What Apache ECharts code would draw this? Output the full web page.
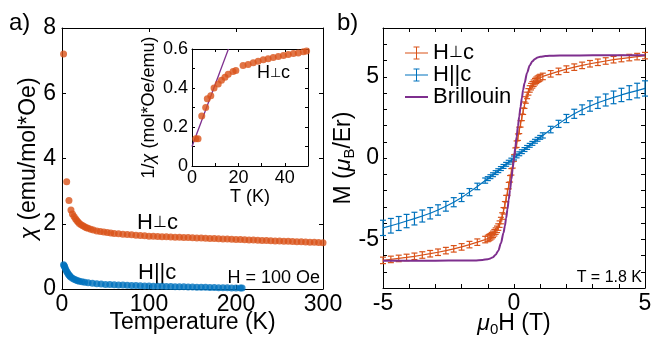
<!DOCTYPE html>
<html><head><meta charset="utf-8">
<script src="https://cdn.jsdelivr.net/npm/echarts@6/dist/echarts.min.js"></script>
<style>html,body{margin:0;padding:0;background:#fff;overflow:hidden}#c{width:651px;height:341px}</style>
</head><body><div id="c"></div>
<script>
const chiPerpT = [1.8, 5.4, 8, 10.3, 12, 13.8, 15.5, 17, 18.5, 20, 22, 24, 26, 28, 30, 33, 36, 40, 44, 48, 52, 56, 60, 65, 70, 75, 80, 85, 90, 95, 100,
  105, 110, 115, 120, 125, 130, 135, 140, 145, 150, 155, 160, 165, 170, 175, 180, 185, 190, 195, 200,
  205, 210, 215, 220, 225, 230, 235, 240, 245, 250, 255, 260, 265, 270, 275, 280, 285, 290, 295, 300];
const chiPerp = [7.2, 3.29, 2.71, 2.42, 2.30, 2.22, 2.15, 2.10, 2.05, 2.01, 1.97, 1.94, 1.91, 1.88, 1.86, 1.83, 1.81, 1.78, 1.76, 1.745, 1.73, 1.715, 1.70, 1.69, 1.68, 1.67, 1.66, 1.65, 1.64, 1.63, 1.62,
  1.615, 1.61, 1.605, 1.60, 1.595, 1.59, 1.585, 1.58, 1.575, 1.57, 1.565, 1.56, 1.555, 1.55, 1.545, 1.54, 1.535, 1.53, 1.525, 1.52,
  1.515, 1.51, 1.505, 1.50, 1.495, 1.49, 1.485, 1.48, 1.475, 1.47, 1.465, 1.46, 1.455, 1.45, 1.445, 1.44, 1.435, 1.43, 1.425, 1.42];
const chiParT = [1.8, 2.5, 3, 4, 5, 6, 7, 8, 9, 10, 12, 14, 16, 18, 20, 23, 26, 30, 35, 40, 45, 50, 55, 60, 65, 70, 75, 80, 85, 90, 95, 100,
  105, 110, 115, 120, 125, 130, 135, 140, 145, 150, 155, 160, 165, 170, 175, 180, 185, 190, 195, 200, 205, 207];
const chiPar = [0.74, 0.71, 0.68, 0.62, 0.56, 0.51, 0.47, 0.43, 0.40, 0.37, 0.33, 0.30, 0.275, 0.255, 0.24, 0.22, 0.205, 0.19, 0.175, 0.16, 0.15, 0.14, 0.135, 0.13, 0.125, 0.12, 0.115, 0.11, 0.105, 0.10, 0.095, 0.09,
  0.087, 0.084, 0.081, 0.078, 0.075, 0.072, 0.069, 0.066, 0.063, 0.06, 0.057, 0.054, 0.051, 0.048, 0.045, 0.042, 0.039, 0.036, 0.033, 0.03, 0.028, 0.027];
const invT = [1.6, 2.6, 4.2, 5.9, 6.6, 8.1, 9.5, 11.3, 12.7, 14.2, 15.6, 17.7, 18.9, 22, 24.2, 26.4, 28.5, 30.7, 32.8, 35, 37.2, 39.4, 41.5, 43.7, 45.8, 48, 49.4];
const invChi = [0.14, 0.14, 0.257, 0.30, 0.345, 0.36, 0.40, 0.42, 0.44, 0.455, 0.47, 0.484, 0.49, 0.515, 0.52, 0.53, 0.537, 0.545, 0.55, 0.557, 0.562, 0.567, 0.572, 0.577, 0.58, 0.586, 0.59];
const fitT = [0, 15.7];
const fitInv = [0.10, 0.60];

const hPerp = [-5.0, -4.7, -4.4, -4.1, -3.8, -3.5, -3.2, -2.9, -2.6, -2.3, -2.0, -1.7, -1.4, -1.1,
  -1.0, -0.95, -0.9, -0.85, -0.8, -0.75, -0.7, -0.65, -0.6, -0.55, -0.5, -0.45, -0.4, -0.35, -0.3, -0.25, -0.2, -0.15, -0.1, -0.05,
  0, 0.05, 0.1, 0.15, 0.2, 0.25, 0.3, 0.35, 0.4, 0.45, 0.5, 0.55, 0.6, 0.65, 0.7, 0.75, 0.8, 0.85, 0.9, 0.95, 1.0,
  1.1, 1.4, 1.7, 2.0, 2.3, 2.6, 2.9, 3.2, 3.5, 3.8, 4.1, 4.4, 4.7, 5.0];
const mPerp = [-6.3, -6.24, -6.18, -6.12, -6.05, -5.97, -5.89, -5.8, -5.7, -5.59, -5.47, -5.33, -5.18, -5.02,
  -4.95, -4.9, -4.85, -4.78, -4.7, -4.6, -4.5, -4.39, -4.25, -4.07, -3.85, -3.57, -3.25, -2.88, -2.5, -2.1, -1.7, -1.28, -0.85, -0.42,
  0, 0.42, 0.85, 1.28, 1.7, 2.1, 2.5, 2.88, 3.25, 3.57, 3.85, 4.07, 4.25, 4.39, 4.5, 4.6, 4.7, 4.78, 4.85, 4.9, 4.95,
  5.02, 5.18, 5.33, 5.47, 5.59, 5.7, 5.8, 5.89, 5.97, 6.05, 6.12, 6.18, 6.24, 6.3];
const errPerp = 0.2;
const hPar = [-5.0, -4.7, -4.4, -4.1, -3.8, -3.5, -3.2, -2.9, -2.6, -2.3, -2.0, -1.7, -1.4, -1.1,
  -1.0, -0.9, -0.8, -0.7, -0.6, -0.5, -0.4, -0.3, -0.2, -0.1, 0, 0.1, 0.2, 0.3, 0.4, 0.5, 0.6, 0.7, 0.8, 0.9, 1.0,
  1.1, 1.4, 1.7, 2.0, 2.3, 2.6, 2.9, 3.2, 3.5, 3.8, 4.1, 4.4, 4.7, 5.0];
const mPar = [-4.3, -4.17, -4.03, -3.88, -3.73, -3.57, -3.4, -3.2, -2.97, -2.72, -2.43, -2.1, -1.75, -1.39,
  -1.27, -1.15, -1.03, -0.9, -0.78, -0.65, -0.52, -0.39, -0.26, -0.13, 0, 0.13, 0.26, 0.39, 0.52, 0.65, 0.78, 0.9, 1.03, 1.15, 1.27,
  1.39, 1.75, 2.1, 2.43, 2.72, 2.97, 3.2, 3.4, 3.57, 3.73, 3.88, 4.02, 4.15, 4.28];
const errPar = [0.47, 0.45, 0.43, 0.41, 0.39, 0.37, 0.35, 0.32, 0.3, 0.28, 0.25, 0.22, 0.2, 0.16,
  0.12, 0.12, 0.12, 0.12, 0.12, 0.12, 0.12, 0.12, 0.12, 0.12, 0.12, 0.12, 0.12, 0.12, 0.12, 0.12, 0.12, 0.12, 0.12, 0.12, 0.12,
  0.16, 0.2, 0.22, 0.25, 0.28, 0.3, 0.32, 0.35, 0.37, 0.39, 0.41, 0.43, 0.45, 0.47];
const hBril = [-5, -4, -3, -2, -1.5, -1.2, -1.0, -0.9, -0.8, -0.7, -0.6, -0.5, -0.4, -0.35, -0.3, -0.25, -0.2, -0.15, -0.1, -0.05,
  0, 0.05, 0.1, 0.15, 0.2, 0.25, 0.3, 0.35, 0.4, 0.5, 0.6, 0.7, 0.8, 0.9, 1.0, 1.2, 1.5, 2, 3, 4, 5];
const mBril = [-6.32, -6.32, -6.32, -6.31, -6.3, -6.27, -6.23, -6.18, -6.1, -5.95, -5.7, -5.25, -4.6, -4.2, -3.7, -3.15, -2.55, -1.95, -1.3, -0.65,
  0, 0.65, 1.3, 1.95, 2.55, 3.15, 3.7, 4.2, 4.6, 5.25, 5.7, 5.95, 6.1, 6.18, 6.23, 6.27, 6.3, 6.31, 6.32, 6.32, 6.32];

const FONT = "'Liberation Sans', Arial, sans-serif";
const ORANGE = '#D95319', BLUE = '#0072BD', PURPLE = '#7E2F8E';
const zip = (a, b) => a.map((v, i) => [v, b[i]]);
const zip3 = (a, b, c) => a.map((v, i) => [v, b[i], Array.isArray(c) ? c[i] : c]);

function axis(o) {
  return Object.assign({
    type: 'value',
    axisLine: { show: true, onZero: false, lineStyle: { color: '#000', width: 1 } },
    axisTick: { show: true, inside: true, length: 4, lineStyle: { color: '#000', width: 1 } },
    splitLine: { show: false },
    axisLabel: { color: '#000', fontFamily: FONT, fontSize: 23, margin: 4 },
    nameTextStyle: { color: '#000', fontFamily: FONT, fontSize: 23 },
    nameLocation: 'middle',
    nameMoveOverlap: false
  }, o);
}
function mirror(o) { const a = axis(o); a.axisLabel = { show: false }; return a; }
function errRender(color) {
  return function (params, api) {
    const x = api.value(0), y = api.value(1), e = api.value(2);
    const t = api.coord([x, y + e]), b = api.coord([x, y - e]);
    const w = 3, st = { stroke: color, lineWidth: 1.2 };
    return { type: 'group', children: [
      { type: 'line', shape: { x1: t[0], y1: t[1], x2: b[0], y2: b[1] }, style: st },
      { type: 'line', shape: { x1: t[0] - w, y1: t[1], x2: t[0] + w, y2: t[1] }, style: st },
      { type: 'line', shape: { x1: b[0] - w, y1: b[1], x2: b[0] + w, y2: b[1] }, style: st }
    ] };
  };
}
const errIcon = 'path://M0,6.5L23,6.5L23,7.5L0,7.5Z M11,1L12,1L12,13L11,13Z M8.5,0.5L14.5,0.5L14.5,1.5L8.5,1.5Z M8.5,12.5L14.5,12.5L14.5,13.5L8.5,13.5Z';
const lineIcon = 'path://M0,0L23,0L23,2L0,2Z';
const rich = {
  t: { fontFamily: FONT, fontSize: 23, color: '#000' },
  m: { fontFamily: FONT, fontSize: 23, fontStyle: 'italic', color: '#000' },
  s: { fontFamily: FONT, fontSize: 15, color: '#000', verticalAlign: 'bottom', padding: [12, 0, 0, 0] }
};
const richSmall = {
  t: { fontFamily: FONT, fontSize: 18, color: '#000' },
  m: { fontFamily: FONT, fontSize: 18, fontStyle: 'italic', color: '#000' }
};

const chart = echarts.init(document.getElementById('c'), null, { renderer: 'canvas' });
chart.setOption({
  animation: false,
  backgroundColor: '#fff',
  grid: [
    { left: 62, top: 28, width: 261, height: 261, outerBoundsMode: 'none', containLabel: false },
    { left: 192, top: 49, width: 116, height: 117, show: true, backgroundColor: '#fff', borderWidth: 0, z: 3, outerBoundsMode: 'none', containLabel: false },
    { left: 383, top: 28, width: 262, height: 260, outerBoundsMode: 'none', containLabel: false }
  ],
  xAxis: [
    axis({ gridIndex: 0, position: 'bottom', min: 0, max: 300, interval: 100, name: 'Temperature (K)', nameGap: 22 }),
    mirror({ gridIndex: 0, position: 'top', min: 0, max: 300, interval: 100 }),
    axis({ gridIndex: 1, position: 'bottom', min: 0, max: 50, interval: 10, name: 'T (K)', nameGap: 22, z: 4,
      axisTick: { show: true, inside: true, length: 3, lineStyle: { color: '#000' } },
      axisLabel: { color: '#000', fontFamily: FONT, fontSize: 18, margin: 3, formatter: v => (v % 20 === 0 ? String(v) : '') },
      nameTextStyle: { color: '#000', fontFamily: FONT, fontSize: 18 } }),
    mirror({ gridIndex: 1, position: 'top', min: 0, max: 50, interval: 10, z: 4,
      axisTick: { show: true, inside: true, length: 3, lineStyle: { color: '#000' } } }),
    axis({ gridIndex: 2, position: 'bottom', min: -5, max: 5, interval: 1, name: '{m|μ}{s|0}{t|H (T)}', nameGap: 22,
      axisLabel: { color: '#000', fontFamily: FONT, fontSize: 23, margin: 4, formatter: v => (v % 5 === 0 ? String(v) : '') },
      nameTextStyle: { color: '#000', fontFamily: FONT, fontSize: 23, rich } }),
    mirror({ gridIndex: 2, position: 'top', min: -5, max: 5, interval: 1 })
  ],
  yAxis: [
    axis({ gridIndex: 0, position: 'left', min: 0, max: 8, interval: 2, name: '{m|χ}{t| (emu/mol*Oe)}', nameGap: 22,
      axisLabel: { color: '#000', fontFamily: FONT, fontSize: 23, margin: 6 },
      nameTextStyle: { color: '#000', fontFamily: FONT, fontSize: 23, rich } }),
    mirror({ gridIndex: 0, position: 'right', min: 0, max: 8, interval: 2 }),
    axis({ gridIndex: 1, position: 'left', min: 0, max: 0.6, interval: 0.1, name: '{t|1/}{m|χ}{t| (mol*Oe/emu)}', nameGap: 34, z: 4,
      axisTick: { show: true, inside: true, length: 3, lineStyle: { color: '#000' } },
      axisLabel: { color: '#000', fontFamily: FONT, fontSize: 18, margin: 4,
        formatter: v => { const k = Math.round(v * 10); return k % 2 === 0 ? (k === 0 ? '0' : (k / 10).toFixed(1)) : ''; } },
      nameTextStyle: { color: '#000', fontFamily: FONT, fontSize: 18, rich: richSmall } }),
    mirror({ gridIndex: 1, position: 'right', min: 0, max: 0.6, interval: 0.1, z: 4,
      axisTick: { show: true, inside: true, length: 3, lineStyle: { color: '#000' } } }),
    axis({ gridIndex: 2, position: 'left', min: -8, max: 8, interval: 1, name: '{t|M (}{m|μ}{s|B}{t|/Er)}', nameGap: 26,
      axisLabel: { color: '#000', fontFamily: FONT, fontSize: 23, margin: 4, formatter: v => (v % 5 === 0 ? String(v) : '') },
      nameTextStyle: { color: '#000', fontFamily: FONT, fontSize: 23, rich } }),
    mirror({ gridIndex: 2, position: 'right', min: -8, max: 8, interval: 1 })
  ],
  legend: {
    orient: 'vertical', left: 400, top: 37, itemWidth: 23, itemHeight: 14, itemGap: 0,
    textStyle: { color: '#000', fontFamily: FONT, fontSize: 22,
      rich: { a: { fontFamily: FONT, fontSize: 22, color: '#000' }, p: { fontFamily: FONT, fontSize: 16, color: '#000' } } },
    formatter: n => (n === 'H⊥c' ? '{a|H}{p|⊥}{a|c}' : '{a|' + n + '}'),
    data: [ { name: 'H⊥c', icon: errIcon }, { name: 'H||c', icon: errIcon }, { name: 'Brillouin', icon: lineIcon } ]
  },
  series: [
    { type: 'scatter', xAxisIndex: 0, yAxisIndex: 0, data: zip(chiPerpT, chiPerp), symbolSize: 7, itemStyle: { color: ORANGE }, silent: true },
    { type: 'scatter', xAxisIndex: 0, yAxisIndex: 0, data: zip(chiParT, chiPar), symbolSize: 7, itemStyle: { color: BLUE }, silent: true },
    { type: 'scatter', xAxisIndex: 2, yAxisIndex: 2, data: zip(invT, invChi), symbolSize: 7, z: 5, itemStyle: { color: ORANGE }, silent: true },
    { type: 'line', xAxisIndex: 2, yAxisIndex: 2, data: zip(fitT, fitInv), showSymbol: false, z: 5,
      lineStyle: { color: PURPLE, width: 1.3 }, itemStyle: { color: PURPLE }, silent: true },
    { type: 'line', name: 'H⊥c', xAxisIndex: 4, yAxisIndex: 4, data: zip(hPerp, mPerp), showSymbol: false,
      lineStyle: { color: ORANGE, width: 1.2 }, itemStyle: { color: ORANGE }, silent: true },
    { type: 'custom', name: 'errPerp', xAxisIndex: 4, yAxisIndex: 4, data: zip3(hPerp, mPerp, errPerp),
      encode: { x: 0, y: 1 }, renderItem: errRender(ORANGE), silent: true },
    { type: 'line', name: 'H||c', xAxisIndex: 4, yAxisIndex: 4, data: zip(hPar, mPar), showSymbol: false,
      lineStyle: { color: BLUE, width: 1.2 }, itemStyle: { color: BLUE }, silent: true },
    { type: 'custom', name: 'errPar', xAxisIndex: 4, yAxisIndex: 4, data: zip3(hPar, mPar, errPar),
      encode: { x: 0, y: 1 }, renderItem: errRender(BLUE), silent: true },
    { type: 'line', name: 'Brillouin', xAxisIndex: 4, yAxisIndex: 4, data: zip(hBril, mBril), showSymbol: false,
      smooth: 0.3, smoothMonotone: 'x', lineStyle: { color: PURPLE, width: 2 }, itemStyle: { color: PURPLE }, silent: true, z: 4 }
  ],
  graphic: [
    { type: 'text', left: 9, top: 11, style: { text: 'a)', fill: '#000', fontFamily: FONT, fontSize: 24 } },
    { type: 'text', left: 337, top: 11, style: { text: 'b)', fill: '#000', fontFamily: FONT, fontSize: 24 } },
    { type: 'text', left: 137, top: 212, style: { text: '{a|H}{p|⊥}{a|c}', fill: '#000',
      rich: { a: { fontFamily: FONT, fontSize: 22, fill: '#000' }, p: { fontFamily: FONT, fontSize: 16, fill: '#000' } } } },
    { type: 'text', left: 138, top: 262, style: { text: 'H||c', fill: '#000', fontFamily: FONT, fontSize: 22 } },
    { type: 'text', right: 331, top: 269, style: { text: 'H = 100 Oe', fill: '#000', fontFamily: FONT, fontSize: 18 } },
    { type: 'text', left: 257, top: 64, z: 10, style: { text: '{a|H}{p|⊥}{a|c}', fill: '#000',
      rich: { a: { fontFamily: FONT, fontSize: 18, fill: '#000' }, p: { fontFamily: FONT, fontSize: 13, fill: '#000' } } } },
    { type: 'text', right: 9, top: 270, style: { text: 'T = 1.8 K', fill: '#000', fontFamily: FONT, fontSize: 16 } }
  ]
});
</script>
</body></html>
